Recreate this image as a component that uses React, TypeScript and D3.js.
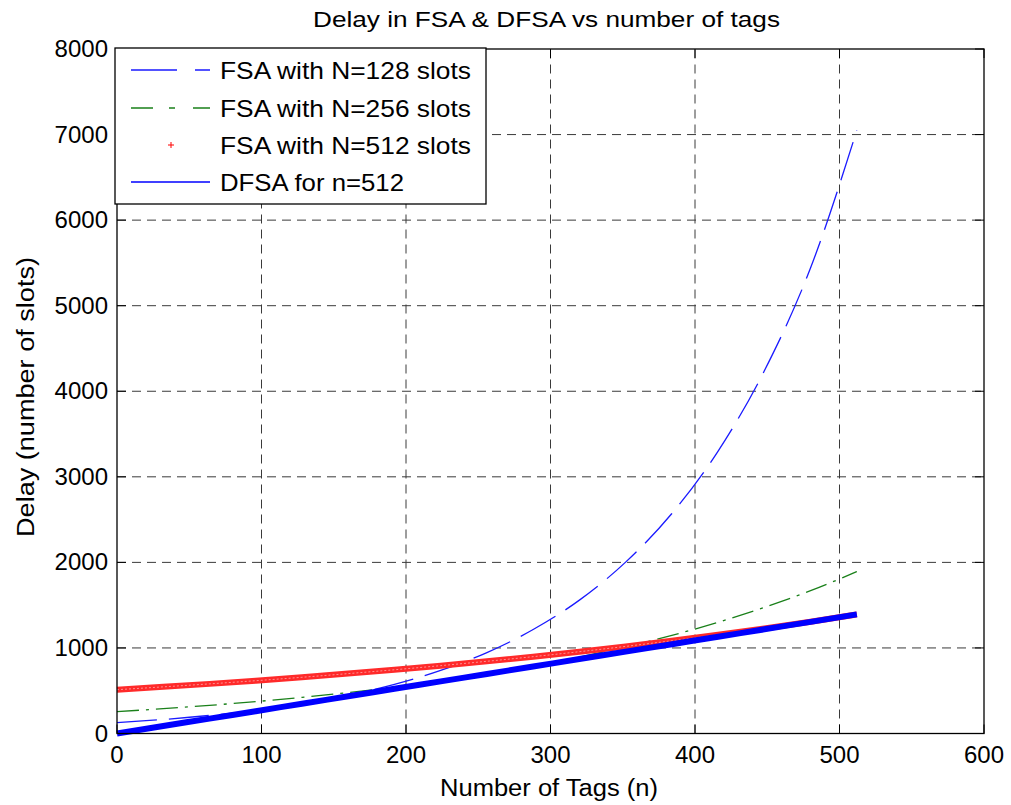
import React from "react";
import * as d3 from "d3";

const tags = [0, 32, 64, 96, 128, 160, 192, 224, 256, 288, 320, 352, 384, 416, 448, 480, 512];
const fsa128 = [128, 164, 211, 271, 348, 447, 574, 737, 946, 1215, 1559, 2003, 2571, 3301, 4239, 5443, 7050];
const fsa256 = [256, 290, 329, 373, 422, 479, 542, 615, 696, 789, 894, 1013, 1147, 1300, 1473, 1669, 1892];
const fsa512 = [512, 545, 580, 617, 657, 700, 745, 793, 844, 898, 956, 1018, 1084, 1153, 1228, 1307, 1392];
const dfsa = [0, 87, 174, 261, 348, 435, 522, 609, 696, 783, 870, 957, 1044, 1131, 1218, 1305, 1392];

const xTicks = [0, 100, 200, 300, 400, 500, 600];
const yTicks = [0, 1000, 2000, 3000, 4000, 5000, 6000, 7000, 8000];
const legendLabels = ["FSA with N=128 slots", "FSA with N=256 slots", "FSA with N=512 slots", "DFSA for n=512"];
const legendWidths = [251, 251, 251, 184];

export default function App() {
  const W = 1011, H = 805;
  const L = 117, R = 984, T = 49, B = 733.5;
  const x = d3.scaleLinear().domain([0, 600]).range([L, R]);
  const y = d3.scaleLinear().domain([0, 8000]).range([B, T]);
  const line = (vals: number[]) =>
    d3.line<number>().x((_, i) => x(tags[i])).y((d) => y(d)).curve(d3.curveMonotoneX)(vals) || "";
  const font = "Arial, 'Liberation Sans', Helvetica, sans-serif";
  const gridColor = "#3a3a3a";
  const legendY = [70, 108, 145, 182];

  return (
    <svg width={W} height={H} style={{ position: "absolute", left: 0, top: 0, background: "#fff" }} fontFamily={font}>
      <rect x={0} y={0} width={W} height={H} fill="#fff" />
      <text x={313} y={27} fontSize={22.5} fill="#000" textLength={467} lengthAdjust="spacingAndGlyphs">
        Delay in FSA &amp; DFSA vs number of tags
      </text>
      {/* grid */}
      {xTicks.slice(1, -1).map((t) => (
        <line key={"gx" + t} x1={x(t)} x2={x(t)} y1={B} y2={T} stroke={gridColor} strokeWidth={1} strokeDasharray="9,6" />
      ))}
      {yTicks.slice(1, -1).map((t) => (
        <line key={"gy" + t} x1={L} x2={R} y1={y(t)} y2={y(t)} stroke={gridColor} strokeWidth={1} strokeDasharray="9,6" />
      ))}
      {/* series */}
      <path d={line(fsa128)} fill="none" stroke="#1a1aff" strokeWidth={1.3} strokeDasharray="40,12" />
      <path d={line(fsa256)} fill="none" stroke="#1a801a" strokeWidth={1.3} strokeDasharray="22,7,3,7" />
      <path d={line(fsa512)} fill="none" stroke="#ff2a2a" strokeWidth={6} />
      <path d={line(fsa512)} fill="none" stroke="#ff9090" strokeWidth={1} strokeDasharray="2,2" />
      <path d={line(dfsa)} fill="none" stroke="#0000ff" strokeWidth={6} />
      {/* axes box */}
      <rect x={L} y={T} width={R - L} height={B - T} fill="none" stroke="#000" strokeWidth={1.3} />
      {/* ticks */}
      {xTicks.map((t) => (
        <g key={"xt" + t}>
          <line x1={x(t)} x2={x(t)} y1={B} y2={B - 9} stroke="#000" />
          <line x1={x(t)} x2={x(t)} y1={T} y2={T + 9} stroke="#000" />
          <text x={x(t)} y={763} textAnchor="middle" fontSize={24} fill="#000">{t}</text>
        </g>
      ))}
      {yTicks.map((t) => (
        <g key={"yt" + t}>
          <line x1={L} x2={L + 9} y1={y(t)} y2={y(t)} stroke="#000" />
          <line x1={R} x2={R - 9} y1={y(t)} y2={y(t)} stroke="#000" />
          <text x={108} y={y(t) + 8} textAnchor="end" fontSize={24} fill="#000">{t}</text>
        </g>
      ))}
      <text x={440} y={796} fontSize={23.5} fill="#000" textLength={218} lengthAdjust="spacingAndGlyphs">
        Number of Tags (n)
      </text>
      <text transform={`translate(34, 537) rotate(-90)`} fontSize={23.5} fill="#000" textLength={280} lengthAdjust="spacingAndGlyphs">
        Delay (number of slots)
      </text>
      {/* legend */}
      <rect x={115} y={48} width={371} height={156} fill="#fff" stroke="#000" strokeWidth={1.3} />
      <line x1={131} x2={210} y1={legendY[0]} y2={legendY[0]} stroke="#1a1aff" strokeWidth={1.3} strokeDasharray="46,18" />
      <line x1={131} x2={210} y1={legendY[1]} y2={legendY[1]} stroke="#1a801a" strokeWidth={1.3} strokeDasharray="22,16,6,18" />
      <g stroke="#ff0000" strokeWidth={1}>
        <line x1={168} x2={174} y1={legendY[2]} y2={legendY[2]} />
        <line x1={171} x2={171} y1={legendY[2] - 3} y2={legendY[2] + 3} />
      </g>
      <line x1={131} x2={210} y1={legendY[3]} y2={legendY[3]} stroke="#0000ff" strokeWidth={1.3} />
      {legendLabels.map((s, i) => (
        <text key={s} x={220} y={legendY[i] + 9} fontSize={24.5} fill="#000" textLength={legendWidths[i]} lengthAdjust="spacingAndGlyphs">{s}</text>
      ))}
    </svg>
  );
}
